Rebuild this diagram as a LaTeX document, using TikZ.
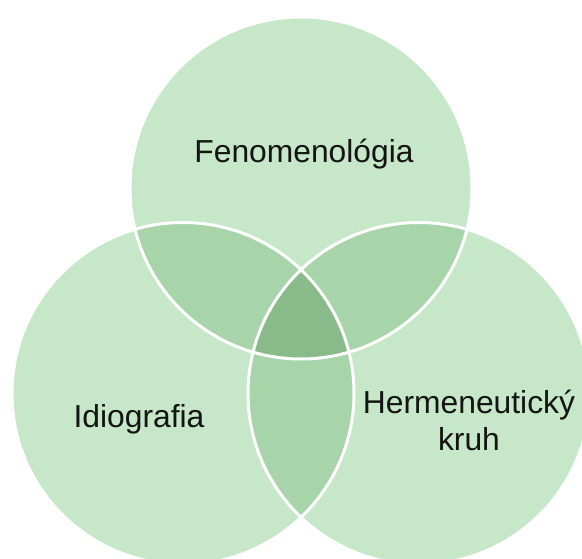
\documentclass[tikz,border=0pt]{standalone}
\usepackage{fontspec}
\setmainfont{Liberation Sans}
\definecolor{vbase}{RGB}{198,231,200}
\definecolor{vdouble}{RGB}{168,212,170}
\definecolor{vtriple}{RGB}{136,187,137}
\definecolor{vtext}{RGB}{20,20,20}
\tikzset{
  venntext/.style={font=\fontsize{31.8}{37}\selectfont, text=vtext, inner sep=0pt, anchor=base, align=center},
  vennline/.style={draw=white, line width=3pt}
}
\begin{document}
\begin{tikzpicture}[x=1pt,y=-1pt]
\useasboundingbox (0,0) rectangle (582,559);
\clip (0,0) rectangle (582,559);
\coordinate (T) at (301,188);
\coordinate (L) at (183,393.5);
\coordinate (R) at (419,393.5);
\fill[vbase] (T) circle[radius=171pt];
\fill[vbase] (L) circle[radius=171pt];
\fill[vbase] (R) circle[radius=171pt];
\begin{scope}
  \clip (T) circle[radius=171pt];
  \fill[vdouble] (L) circle[radius=171pt];
  \fill[vdouble] (R) circle[radius=171pt];
\end{scope}
\begin{scope}
  \clip (L) circle[radius=171pt];
  \fill[vdouble] (R) circle[radius=171pt];
\end{scope}
\begin{scope}
  \clip (T) circle[radius=171pt];
  \clip (L) circle[radius=171pt];
  \fill[vtriple] (R) circle[radius=171pt];
\end{scope}
\draw[vennline] (T) circle[radius=171pt];
\draw[vennline] (L) circle[radius=171pt];
\draw[vennline] (R) circle[radius=171pt];
\node[venntext] (fen) at (304,163) {Fenomenológia};
\node[venntext] (idio) at (139,428) {Idiografia};
\node[venntext] (herm) at (469,450) {Hermeneutický\\kruh};
\end{tikzpicture}
\end{document}
